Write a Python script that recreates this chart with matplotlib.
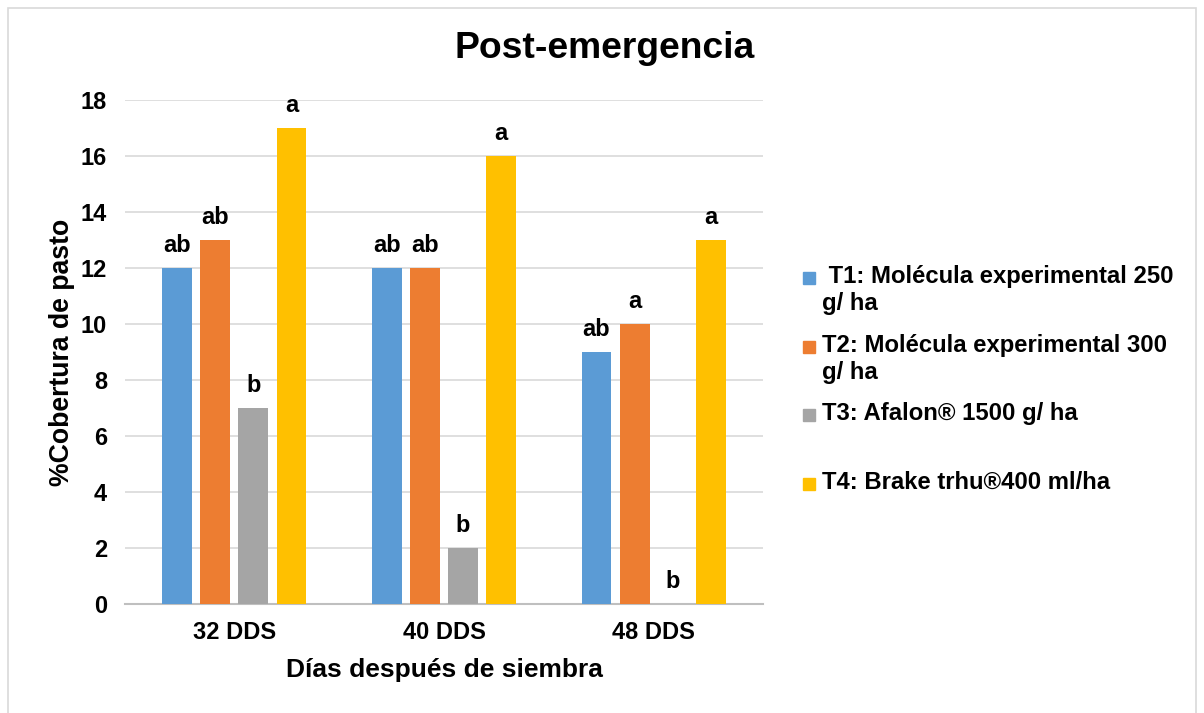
import matplotlib.pyplot as plt
from matplotlib.patches import Rectangle
import numpy as np

plt.rcParams['font.family'] = ['Liberation Sans', 'DejaVu Sans']
plt.rcParams['font.weight'] = 'bold'

# datos
dias = ["32 DDS", "40 DDS", "48 DDS"]
t1 = [12, 12, 9]
t2 = [13, 12, 10]
t3 = [7, 2, 0]
t4 = [17, 16, 13]
letras_t1 = ["ab", "ab", "ab"]
letras_t2 = ["ab", "ab", "a"]
letras_t3 = ["b", "b", "b"]
letras_t4 = ["a", "a", "a"]
nombres = [" T1: Molécula experimental 250\ng/ ha",
           "T2: Molécula experimental 300\ng/ ha",
           "T3: Afalon® 1500 g/ ha",
           "T4: Brake trhu®400 ml/ha"]
colores = ["#5B9BD5", "#ED7D31", "#A5A5A5", "#FFC000"]

fig = plt.figure(figsize=(12.04, 7.13), dpi=100)
ax = fig.add_axes([0.1038, 0.1529, 0.5299, 0.7068])

# marco
fig.patches.append(Rectangle((8/1204, -0.1), 1 - 16/1204, 1.1 - 8/713,
                             transform=fig.transFigure, fill=False,
                             edgecolor="#D9D9D9", linewidth=1.2))

x = np.arange(len(dias))
paso = 0.182
ancho = 0.142
series = [t1, t2, t3, t4]
letras = [letras_t1, letras_t2, letras_t3, letras_t4]
for i, (vals, lets) in enumerate(zip(series, letras)):
    pos = x + (i - 1.5) * paso
    ax.bar(pos, vals, width=ancho, color=colores[i], zorder=3)
    for p, v, l in zip(pos, vals, lets):
        ax.annotate(l, (p, v), xytext=(0, 16.5), textcoords="offset points",
                    ha="center", va="center", fontsize=17, fontweight="bold",
                    annotation_clip=False)

ax.set_xlim(-0.52, 2.52)
ax.set_ylim(0, 18)
ax.set_yticks(range(0, 19, 2))
ax.set_xticks(x)
ax.set_xticklabels(dias)
ax.tick_params(axis="both", length=0, labelsize=17)
ax.tick_params(axis="y", pad=13)
ax.tick_params(axis="x", pad=12)
ax.grid(axis="y", color="#D9D9D9", linewidth=1.2, zorder=0)
for s in ["top", "right", "left"]:
    ax.spines[s].set_visible(False)
ax.spines["bottom"].set_color("#BFBFBF")
ax.spines["bottom"].set_linewidth(1.5)

ax.set_xlabel("Días después de siembra", fontsize=19, fontweight="bold", labelpad=10)
ax.set_ylabel("%Cobertura de pasto", fontsize=19.2, fontweight="bold", labelpad=4)

fig.text(605/1204, 1 - 48/713, "Post-emergencia", fontsize=26.8, fontweight="bold",
         ha="center", va="center")

# leyenda manual
ley_y = [278, 347, 415, 484]
for c, nom, yy in zip(colores, nombres, ley_y):
    fig.patches.append(Rectangle((803/1204, 1 - (yy + 6)/713), 12/1204, 12/713,
                                 transform=fig.transFigure, color=c))
    fig.text(822/1204, 1 - (yy - 13)/713, nom, fontsize=17.2, fontweight="bold",
             ha="left", va="top", linespacing=1.2)

fig.savefig("out.png", dpi=100)
